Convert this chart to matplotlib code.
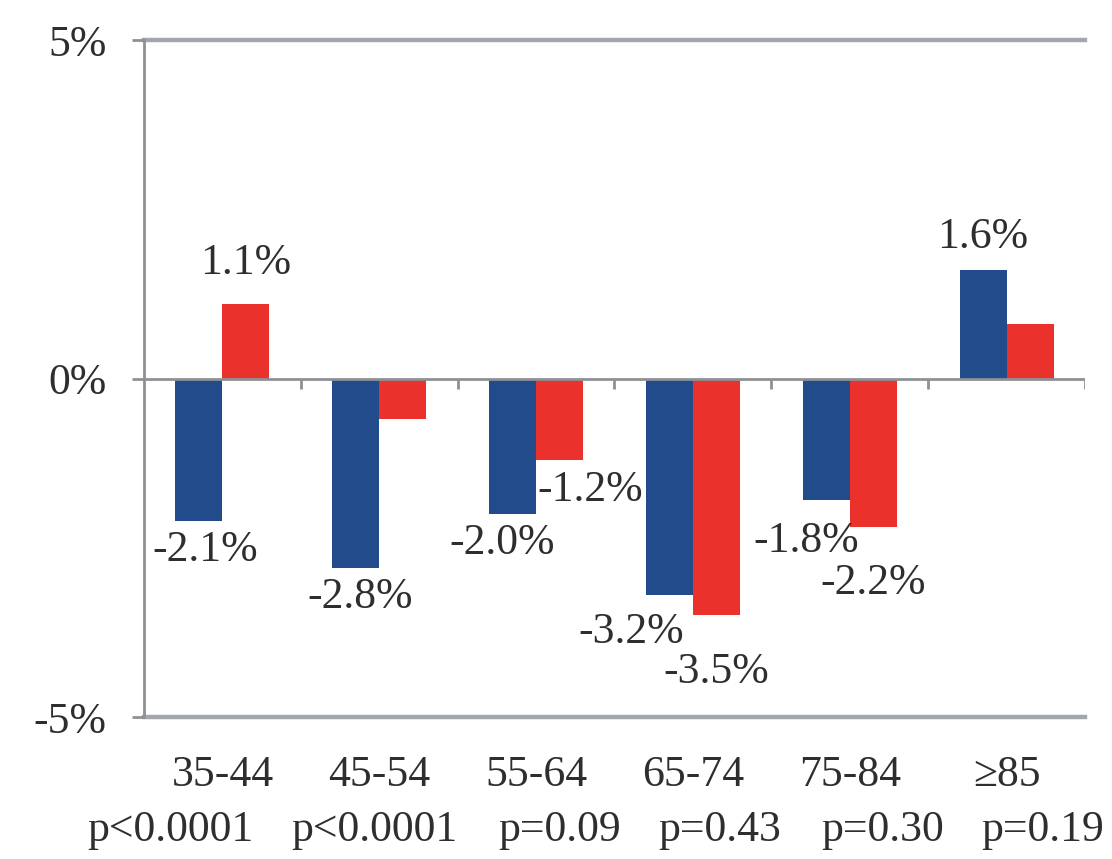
import matplotlib
matplotlib.use("Agg")
import matplotlib.pyplot as plt
import numpy as np

# Age groups, p-values and percentage changes for the two series
age_groups = ["35-44", "45-54", "55-64", "65-74", "75-84", "\u226585"]
p_values = ["p<0.0001", "p<0.0001", "p=0.09", "p=0.43", "p=0.30", "p=0.19"]
blue_values = [-2.1, -2.8, -2.0, -3.2, -1.8, 1.6]
red_values = [1.1, -0.6, -1.2, -3.5, -2.2, 0.8]
blue_labels = [True, True, True, True, True, True]
red_labels = [True, False, True, True, True, False]
y_ticks = [-5, 0, 5]

BLUE = "#214B8A"
RED = "#EB312B"
GRID = "#A3A6AB"
AXIS = "#8E9095"
TEXT = "#2E2E2E"
FONT = "Liberation Serif"
FS = 31.5

plt.rcParams["font.family"] = [FONT, "DejaVu Serif"]

fig = plt.figure(figsize=(11.12, 8.59), dpi=100)
ax = fig.add_axes([0.1295, 0.1653, 0.8462, 0.7881])

x = np.arange(len(age_groups))
w = 0.30
bars_b = ax.bar(x - w / 2, blue_values, width=w, color=BLUE, zorder=3)
bars_r = ax.bar(x + w / 2, red_values, width=w, color=RED, zorder=3)

ax.set_xlim(-0.5, len(age_groups) - 0.5)
ax.set_ylim(-5, 5)

# Horizontal rules at the top and bottom of the scale
for yv in (y_ticks[0], y_ticks[-1]):
    ax.axhline(yv, color=GRID, lw=3.2, zorder=1, clip_on=False)
# Zero line with category separators hanging below it
ax.axhline(0, color=AXIS, lw=2.0, zorder=4)
sep = np.arange(len(age_groups)) + 0.5
ax.vlines(sep, 0, -0.15, color=AXIS, lw=2.0, zorder=4)

for s in ("top", "right", "bottom"):
    ax.spines[s].set_visible(False)
ax.spines["left"].set_color(AXIS)
ax.spines["left"].set_linewidth(2.0)

ax.set_yticks(y_ticks)
ax.set_yticklabels([f"{v}%" for v in y_ticks], fontsize=FS, color=TEXT,
                   family=FONT)
ax.tick_params(axis="y", direction="out", length=9, width=2.0, color=AXIS,
               pad=18)
ax.set_xticks([])

# Category labels and p-values beneath the plot
tr = ax.get_xaxis_transform()
p_shift = [-0.33, -0.03, 0.15, 0.17, 0.21, 0.23]
for i, (g, p) in enumerate(zip(age_groups, p_values)):
    ax.text(i, -0.086, g, transform=tr, ha="center", va="center",
            fontsize=FS, color=TEXT, family=FONT)
    ax.text(i + p_shift[i], -0.167, p, transform=tr, ha="center",
            va="center", fontsize=FS, color=TEXT, family=FONT)

# Value labels at the bar ends (pixel offsets)
blue_off = [(6, -29), (4, -29), (-10, -29), (-38, -37), (-20, -41), (0, 33)]
red_off = [(0, 41), (0, 0), (31, -30), (0, -57), (0, -56), (0, 0)]

for i, (bar, v) in enumerate(zip(bars_b, blue_values)):
    if blue_labels[i]:
        ax.annotate(f"{v:.1f}%", (bar.get_x() + bar.get_width() / 2, v),
                    xytext=blue_off[i], textcoords="offset pixels",
                    ha="center", va="center", fontsize=FS, color=TEXT,
                    family=FONT, zorder=5)
for i, (bar, v) in enumerate(zip(bars_r, red_values)):
    if red_labels[i]:
        ax.annotate(f"{v:.1f}%", (bar.get_x() + bar.get_width() / 2, v),
                    xytext=red_off[i], textcoords="offset pixels",
                    ha="center", va="center", fontsize=FS, color=TEXT,
                    family=FONT, zorder=5)

fig.savefig("out.png", dpi=100, facecolor="white")
